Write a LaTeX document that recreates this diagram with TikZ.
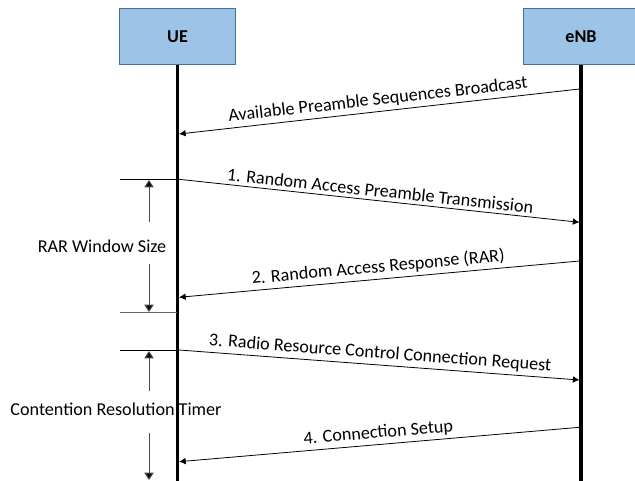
\documentclass[tikz,border=0pt]{standalone}
\usepackage{fontspec}
\setmainfont{Carlito}
\usetikzlibrary{arrows.meta}
\definecolor{boxfill}{HTML}{9DC3E6}
\definecolor{boxline}{HTML}{41719C}
\begin{document}
\begin{tikzpicture}[x=0.75pt,y=-0.75pt,
  txt/.style={font=\fontsize{13.6}{16}\selectfont},
  actor/.style={draw=boxline,fill=boxfill,line width=0.75pt,minimum width=87pt,minimum height=42pt,font=\fontsize{13.6}{16}\selectfont\bfseries},
  lifeline/.style={line width=2.6pt},
  msg/.style={line width=0.6pt,-{Latex[length=5pt,width=5pt]}},
  lbl/.style={txt,sloped,above=1.5pt,inner sep=1pt},
  tick/.style={line width=0.75pt},
  timer/.style={line width=0.75pt,black!70,-{Triangle[length=5.5pt,width=7pt,fill=black]}}]
\useasboundingbox (0,0) rectangle (635,481);
\clip (0,0) rectangle (635,481);
% actors
\node[actor] (ue) at (177.5,37) {UE};
\node[actor] (enb) at (581,37) {eNB};
\coordinate (ueend) at (177.5,482);
\coordinate (enbend) at (581,482);
% timer labels (drawn below lifeline)
\node[txt] (rarlbl) at (102,246) {RAR Window Size};
\node[txt] (crlbl) at (116,409) {Contention Resolution Timer};
% lifelines
\draw[lifeline] (ue.south) -- (ueend);
\draw[lifeline] (enb.south) -- (enbend);
% message endpoints
\coordinate (b1) at (579.5,89);
\coordinate (b2) at (179,134);
\coordinate (m1a) at (179,179.3);
\coordinate (m1b) at (579.5,222.3);
\coordinate (m2a) at (579.5,261);
\coordinate (m2b) at (179,297.3);
\coordinate (m3a) at (179,350);
\coordinate (m3b) at (579.5,380);
\coordinate (m4a) at (579.5,427.3);
\coordinate (m4b) at (179,461.7);
\draw[msg] (b1) -- node[lbl]{Available Preamble Sequences Broadcast} (b2);
\draw[msg] (m1a) -- node[lbl]{1. Random Access Preamble Transmission} (m1b);
\draw[msg] (m2a) -- node[lbl]{2. Random Access Response (RAR)} (m2b);
\draw[msg] (m3a) -- node[lbl]{3. Radio Resource Control Connection Request} (m3b);
\draw[msg] (m4a) -- node[lbl]{4. Connection Setup} (m4b);
% timer ticks
\coordinate (t1a) at (120,179.3); \coordinate (t1b) at (177,179.3);
\coordinate (t2a) at (120,312.7); \coordinate (t2b) at (177,312.7);
\coordinate (t3a) at (120,350);   \coordinate (t3b) at (177,350);
\draw[tick] (t1a) -- (t1b);
\draw[tick,black!60] (t2a) -- (t2b);
\draw[tick] (t3a) -- (t3b);
% timer arrows
\coordinate (r1) at (149,222); \coordinate (r1t) at (149,180);
\coordinate (r2) at (149,264); \coordinate (r2t) at (149,312);
\coordinate (c1) at (149,391); \coordinate (c1t) at (149,351);
\coordinate (c2) at (149,433); \coordinate (c2t) at (149,480);
\draw[timer] (r1) -- (r1t);
\draw[timer] (r2) -- (r2t);
\draw[timer] (c1) -- (c1t);
\draw[timer] (c2) -- (c2t);
\end{tikzpicture}
\end{document}
